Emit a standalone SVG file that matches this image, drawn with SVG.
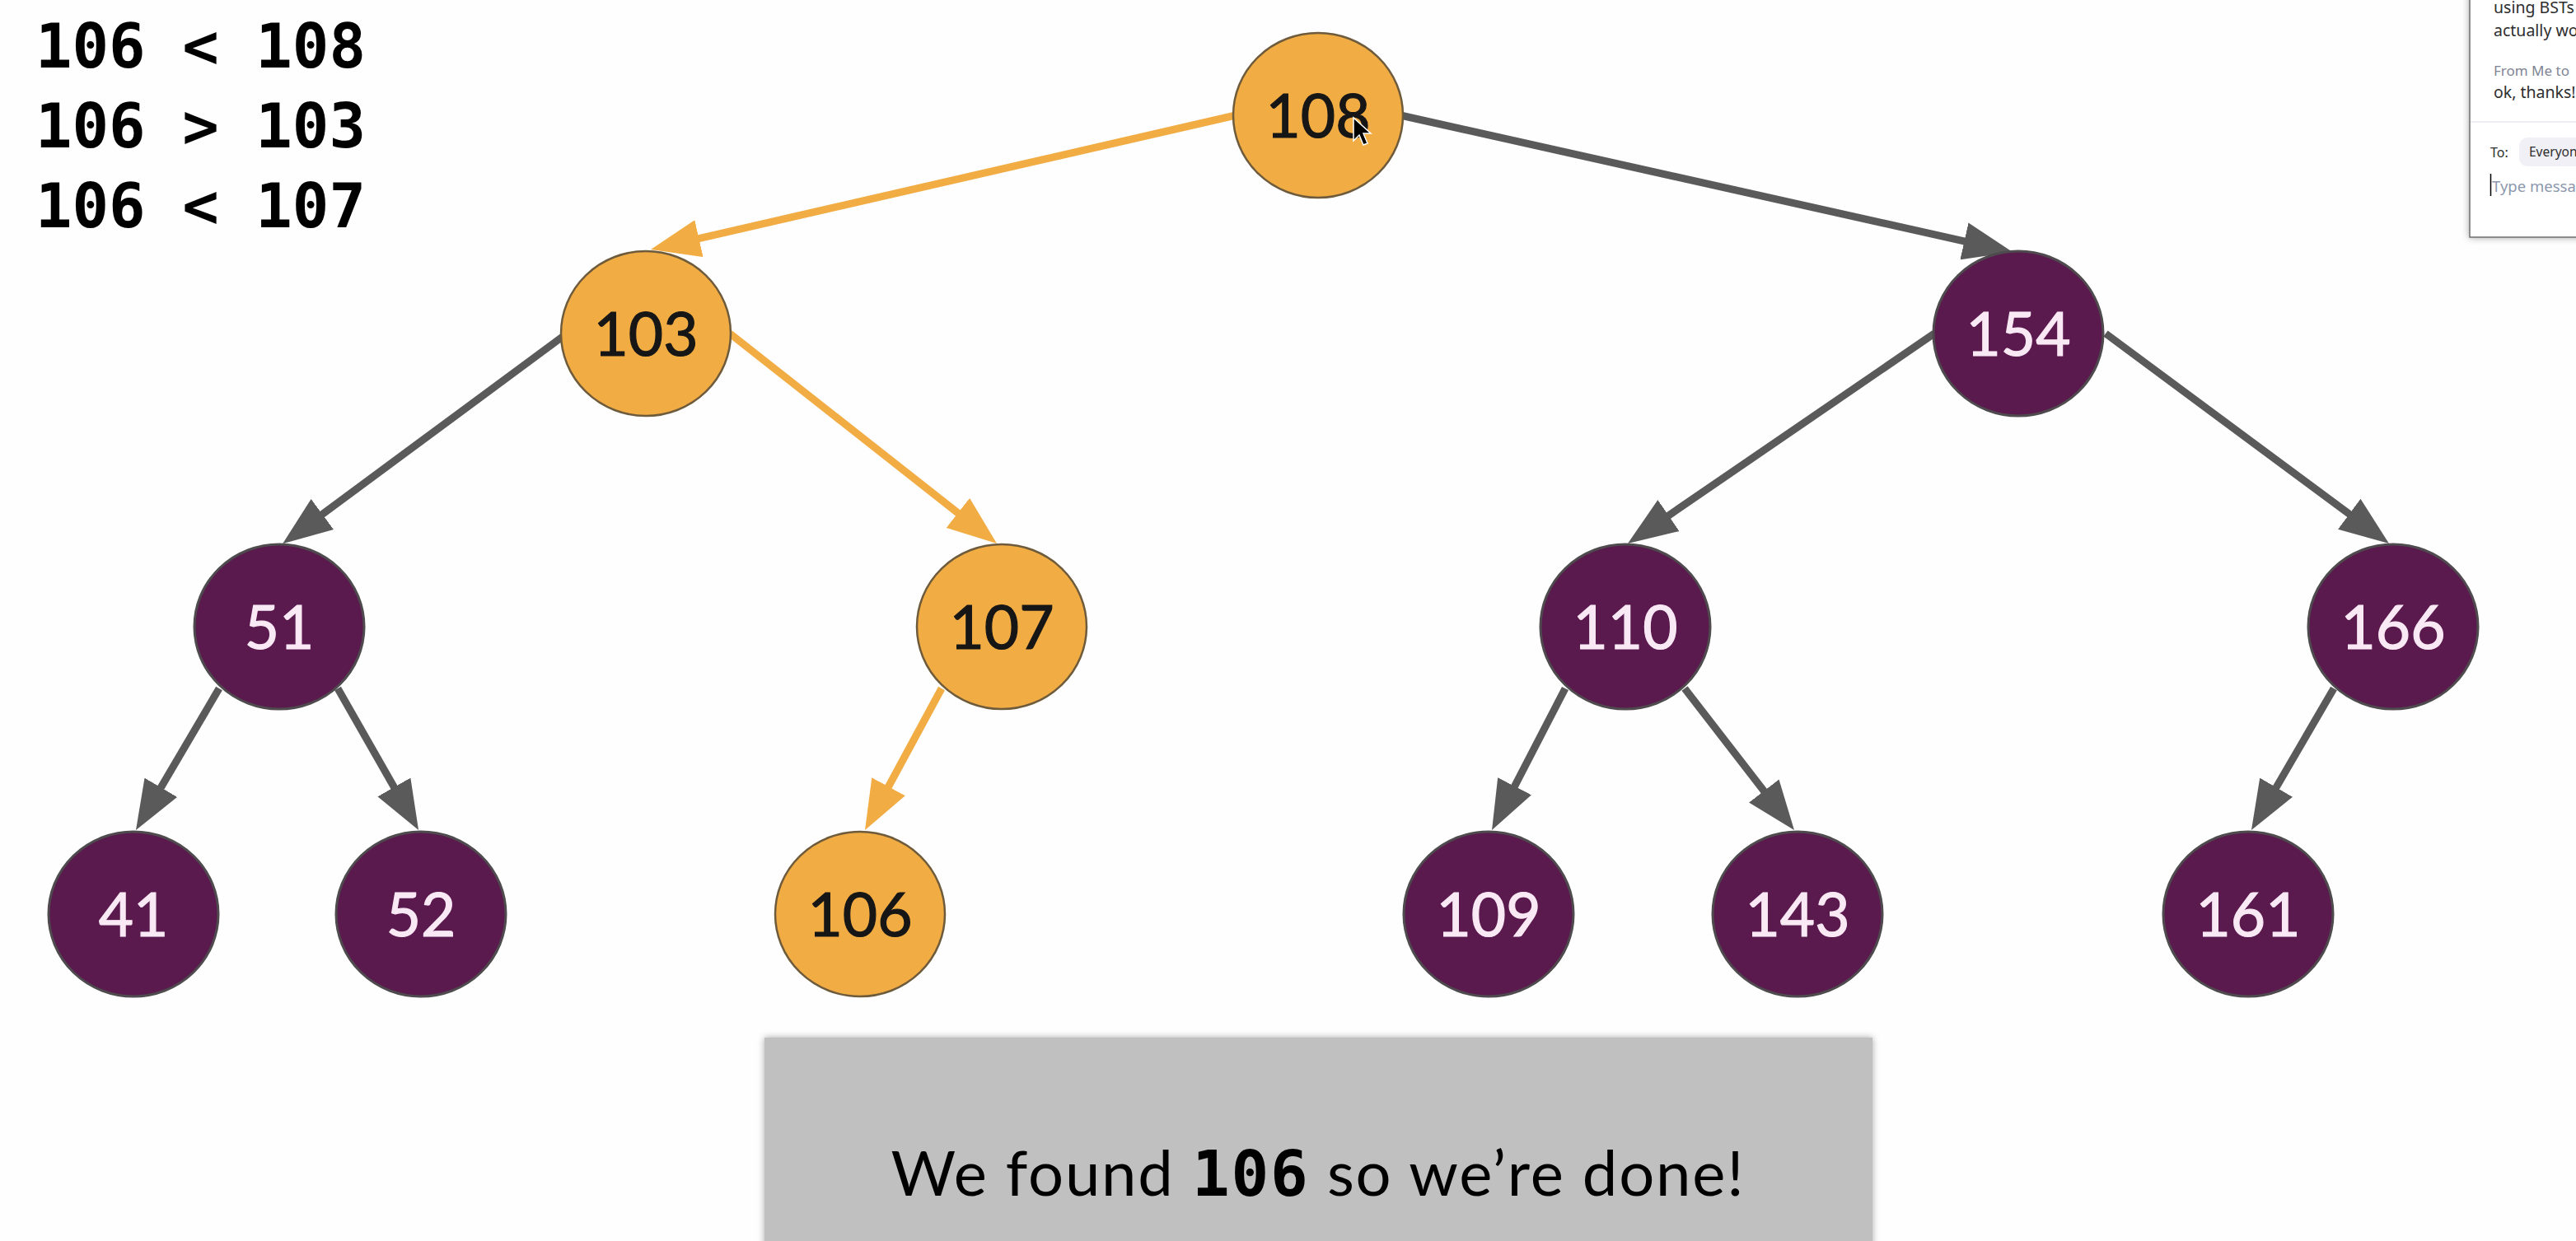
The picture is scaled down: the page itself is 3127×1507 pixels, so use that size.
<svg xmlns="http://www.w3.org/2000/svg" width="3127" height="1507" viewBox="0 0 3127 1507">
<style>
.edge{fill:none;stroke-width:9;stroke-linecap:butt}
.g{stroke:#5a5a5a;marker-end:url(#ag)}
.o{stroke:#f2ac44;marker-end:url(#ao)}
.on ellipse{fill:#f2ac44;stroke:#6e5b3c;stroke-width:2.5}
.pn ellipse{fill:#5b1a4e;stroke:#4e4a4e;stroke-width:3}
.on text,.pn text{font-family:Lato,"Open Sans",sans-serif;font-size:73px;text-anchor:middle;stroke-width:1.2}
.on text{fill:#161616;stroke:#161616}
.pn text{fill:#f9e9f5;stroke:#f9e9f5}
.cmp{font-family:"DejaVu Sans Mono","Liberation Mono",monospace;font-weight:bold;font-size:74px;fill:#000}
.chat{font-family:"Noto Sans","Open Sans",sans-serif}
</style>
<defs>
<marker id="ag" markerUnits="userSpaceOnUse" viewBox="0 0 60 46" refX="10" refY="23" markerWidth="60" markerHeight="46" orient="auto"><path d="M0,0 L60,23 L0,46 Z" fill="#5a5a5a"/></marker>
<marker id="ao" markerUnits="userSpaceOnUse" viewBox="0 0 60 46" refX="10" refY="23" markerWidth="60" markerHeight="46" orient="auto"><path d="M0,0 L60,23 L0,46 Z" fill="#f2ac44"/></marker>
<filter id="sh" x="-10%" y="-10%" width="120%" height="120%"><feDropShadow dx="0" dy="0" stdDeviation="4" flood-color="#000" flood-opacity="0.35"/></filter>
</defs>
<rect x="0" y="0" width="3127" height="1507" fill="#fefefe"/>

<g id="comparisons" class="cmp">
<text x="43" y="82" xml:space="preserve">106 &lt; 108</text>
<text x="43" y="179" xml:space="preserve">106 &gt; 103</text>
<text x="43" y="276" xml:space="preserve">106 &lt; 107</text>
</g>

<g id="connectors">
<path class="edge o" d="M1500,140 L838.7,291.8"/>
<path class="edge g" d="M1700,140 L2394.2,295.1"/>
<path class="edge g" d="M684,408 L383.3,630.4"/>
<path class="edge o" d="M886,405 L1170.7,629.1"/>
<path class="edge g" d="M2348,405 L2017.2,631.7"/>
<path class="edge g" d="M2556,405 L2859.8,630.2"/>
<path class="edge g" d="M266,836 L190.3,964.9"/>
<path class="edge g" d="M410,836 L483.3,964.6"/>
<path class="edge o" d="M1143,836 L1073.8,964"/>
<path class="edge g" d="M1900,836 L1834,963.6"/>
<path class="edge g" d="M2045,836 L2147.4,968.4"/>
<path class="edge g" d="M2833,836 L2758.1,964.8"/>
</g>

<g id="n108" class="on"><ellipse cx="1600" cy="140" rx="103" ry="100"/><text x="1600" y="167">108</text></g>
<g id="n103" class="on"><ellipse cx="784" cy="405" rx="103" ry="100"/><text x="784" y="432">103</text></g>
<g id="n154" class="pn"><ellipse cx="2450" cy="405" rx="103" ry="100"/><text x="2450" y="432">154</text></g>
<g id="n51" class="pn"><ellipse cx="339" cy="761" rx="103" ry="100"/><text x="339" y="788">51</text></g>
<g id="n107" class="on"><ellipse cx="1216" cy="761" rx="103" ry="100"/><text x="1216" y="788">107</text></g>
<g id="n110" class="pn"><ellipse cx="1973" cy="761" rx="103" ry="100"/><text x="1973" y="788">110</text></g>
<g id="n166" class="pn"><ellipse cx="2905" cy="761" rx="103" ry="100"/><text x="2905" y="788">166</text></g>
<g id="n41" class="pn"><ellipse cx="162" cy="1110" rx="103" ry="100"/><text x="162" y="1137">41</text></g>
<g id="n52" class="pn"><ellipse cx="511" cy="1110" rx="103" ry="100"/><text x="511" y="1137">52</text></g>
<g id="n106" class="on"><ellipse cx="1044" cy="1110" rx="103" ry="100"/><text x="1044" y="1137">106</text></g>
<g id="n109" class="pn"><ellipse cx="1807" cy="1110" rx="103" ry="100"/><text x="1807" y="1137">109</text></g>
<g id="n143" class="pn"><ellipse cx="2182" cy="1110" rx="103" ry="100"/><text x="2182" y="1137">143</text></g>
<g id="n161" class="pn"><ellipse cx="2729" cy="1110" rx="103" ry="100"/><text x="2729" y="1137">161</text></g>

<g id="pointer"><path d="M1643,143 L1643,171 L1650,164 L1655,176 L1660,174 L1655,162 L1664,162 Z" fill="#000" stroke="#fff" stroke-width="1.5"/></g>

<g id="caption">
<rect x="928" y="1260" width="1345" height="260" fill="#c0c0c0" filter="url(#sh)"/>
<text x="1600" y="1452" text-anchor="middle" font-family="Lato,'Open Sans',sans-serif" font-size="76" letter-spacing="1.8" fill="#000">We found <tspan font-family="'DejaVu Sans Mono',monospace" font-weight="bold">106</tspan> so we’re done!</text>
</g>

<g id="chat">
<rect x="2998" y="-10" width="140" height="298" fill="#fff" stroke="#6e6e6e" stroke-width="1.5" filter="url(#sh)"/>
<text class="chat" x="3027" y="16" font-size="19.5" fill="#2e2e2e">using BSTs</text>
<text class="chat" x="3027" y="44" font-size="19.5" fill="#2e2e2e">actually wo</text>
<text class="chat" x="3027" y="92" font-size="17" fill="#7f8594">From Me to</text>
<text class="chat" x="3027" y="119" font-size="19.5" fill="#2e2e2e">ok, thanks!</text>
<line x1="2999" y1="148" x2="3127" y2="148" stroke="#e6e9f1" stroke-width="1.5"/>
<text class="chat" x="3023" y="191" font-size="16" fill="#2e2e2e">To:</text>
<rect x="3058" y="167" width="90" height="35" rx="10" fill="#f0f0f6"/>
<text class="chat" x="3070" y="190" font-size="15.5" fill="#2e2e2e">Everyon</text>
<line x1="3023.5" y1="211" x2="3023.5" y2="238" stroke="#000" stroke-width="1.5"/>
<text class="chat" x="3025" y="233" font-size="18.5" fill="#8c98ad">Type messag</text>
</g>
</svg>
